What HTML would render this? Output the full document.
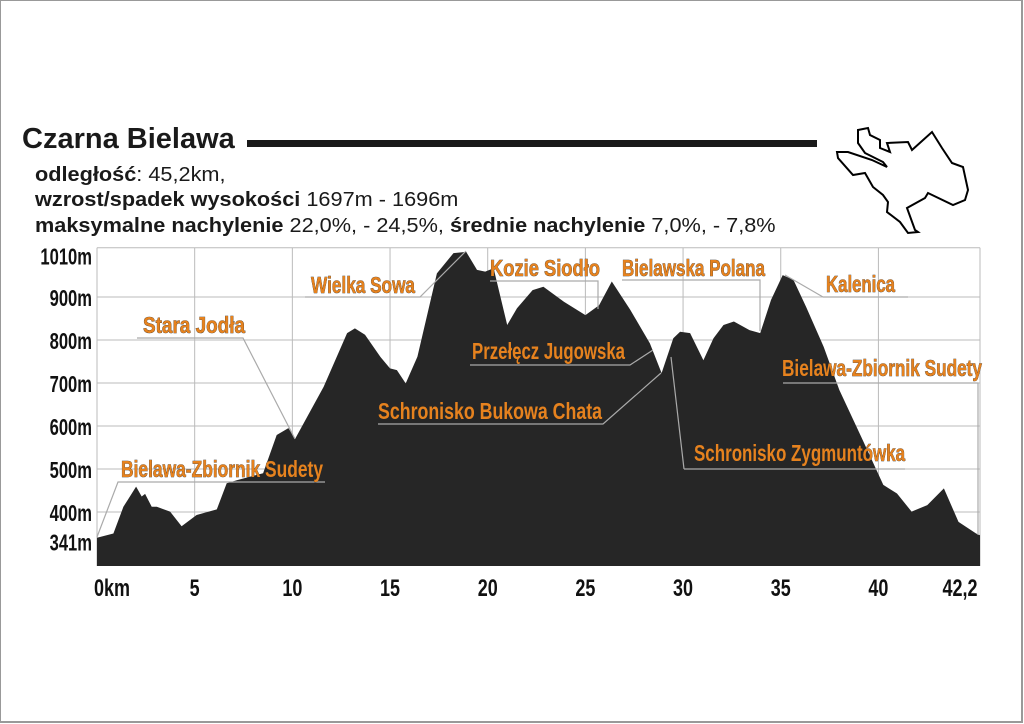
<!DOCTYPE html>
<html><head><meta charset="utf-8"><style>
html,body{margin:0;padding:0;background:#fff}
#wrap{position:relative;width:1024px;height:724px;overflow:hidden;font-family:"Liberation Sans",sans-serif}
.frame{position:absolute;left:0;top:0;width:1020px;height:720px;border:1px solid #999;border-right:2px solid #999;border-bottom:2px solid #999}
.title{position:absolute;left:22px;top:123px;font:bold 29px "Liberation Sans",sans-serif;color:#1a1a1a;transform:scaleX(1.0);transform-origin:left top;white-space:nowrap}
.bar{position:absolute;left:247px;top:140px;width:570px;height:7px;background:#1a1a1a}
.info{position:absolute;left:35px;font-size:20px;color:#1a1a1a;white-space:nowrap;transform:scaleX(1.085);transform-origin:left top}
.info b{font-weight:bold}
</style></head><body>
<div id="wrap">
<div class="frame"></div>
<div class="title">Czarna Bielawa</div>
<div class="bar"></div>
<div class="info" style="top:164px"><b>odległość</b>: 45,2km,</div>
<div class="info" style="top:189px"><b>wzrost/spadek wysokości</b> 1697m - 1696m</div>
<div class="info" style="top:215px"><b>maksymalne nachylenie</b> 22,0%, - 24,5%, <b>średnie nachylenie</b> 7,0%, - 7,8%</div>
<svg width="1024" height="724" style="position:absolute;left:0;top:0" id="svg">
<path fill="none" stroke="#000" stroke-width="2" d="M858,130 L868,128 L870,135 L880,140 L880,148 L890,152 L887,143 L908,142 L912,150 L932,132 L942,148 L952,163 L963,167 L968,190 L965,200 L953,205 L928,193 L925,198 L907,208 L915,230 L918,232 L908,233 L900,222 L887,212 L888,202 L883,195 L873,187 L865,173 L853,175 L838,158 L837,152 L848,152 L872,160 L887,167 L883,162 L865,153 L858,143 Z"/>
<g id="grid"></g><g id="area"></g><g id="ann"></g><g id="axes"></g>
</svg>
</div>
<script>
const km=[0,0.84,1.35,2.0,2.29,2.46,2.8,3.06,3.74,4.33,5.1,6.13,6.64,7.15,8.5,9.2,9.8,10.14,11.6,12.8,13.2,13.72,14.5,15.0,15.35,15.8,16.4,17.4,18.25,18.9,19.45,19.87,20.3,21.0,21.5,22.3,22.85,23.9,25.0,25.7,26.35,27.3,28.3,28.9,29.5,29.85,30.36,31.04,31.56,32.07,32.6,33.4,33.95,34.5,35.1,35.65,36.3,37.2,38.0,39.2,40.25,40.95,41.7,42.5,43.35,44.1,45.0,45.2];
const elev=[340,350,412,459,436,442,412,412,401,367,393,406,467,474,490,579,595,570,691,816,827,812,761,734,730,699,761,955,1002,1005,963,959,967,835,874,916,924,889,858,881,936,870,792,723,804,819,816,753,804,835,843,823,816,893,951,940,877,784,684,567,463,443,401,416,455,377,350,346];
const gridElev=[400,500,600,700,800,900,1010];
const yTicks=[341,400,500,600,700,800,900,1010];
const yTickLabels=["341m","400m","500m","600m","700m","800m","900m","1010m"];
const gridKm=[5,10,15,20,25,30,35,40];
const xTicks=[0,5,10,15,20,25,30,35,40,45.2];
const xTickLabels=["0km","5","10","15","20","25","30","35","40","42,2"];
const X0=97,X1=980,YB=566,maxKm=45.2;
function xs(k){return X0+k/maxKm*(X1-X0);}
function ys(e){return 512-(e-400)*0.43;}
const NS="http://www.w3.org/2000/svg";
function mk(t,a,p){const e=document.createElementNS(NS,t);for(const k in a)e.setAttribute(k,a[k]);p.appendChild(e);return e;}
function squeeze(t,f){const w=t.getComputedTextLength();t.setAttribute('textLength',(w*f).toFixed(1));t.setAttribute('lengthAdjust','spacingAndGlyphs');}
const grid=document.getElementById('grid'),area=document.getElementById('area'),ann=document.getElementById('ann'),axes=document.getElementById('axes');
gridElev.forEach(g=>{const l=mk('line',{x1:X0,x2:X1,y1:ys(g)-(g>1000?2:0),y2:ys(g)-(g>1000?2:0),stroke:'#bbb','stroke-width':1},grid);

});
gridKm.forEach(k=>{const l=mk('line',{x1:xs(k),x2:xs(k),y1:ys(1010)-2,y2:YB,stroke:'#bbb','stroke-width':1},grid);

});
const bl=mk('line',{x1:X0,x2:X0,y1:ys(1010)-2,y2:YB,stroke:'#bbb'},grid);


const br=mk('line',{x1:X1,x2:X1,y1:ys(1010)-2,y2:YB,stroke:'#bbb'},grid);


let d='M'+xs(0)+','+YB;
km.forEach((k,i)=>{d+=' L'+xs(k).toFixed(1)+','+ys(elev[i]).toFixed(1);});
d+=' L'+xs(maxKm)+','+YB+' Z';
const ar=mk('path',{d:d,fill:'#262626'},area);


yTicks.forEach((v,i)=>{const t=mk('text',{x:92,y:ys(v)+(v>1000?10:v<350?8:4)+5,'text-anchor':'end','font-size':23,'font-weight':'bold',fill:'#111','font-family':'Liberation Sans, sans-serif'},axes);
t.textContent=yTickLabels[i];


squeeze(t,0.72);});
xTicks.forEach((v,i)=>{let x=xs(v);if(i==0)x=112;if(i==xTicks.length-1)x=960;
const t=mk('text',{x:x,y:596,'text-anchor':'middle','font-size':24,'font-weight':'bold',fill:'#111','font-family':'Liberation Sans, sans-serif'},axes);
t.textContent=xTickLabels[i];


squeeze(t,0.75);});
const labels=[
["Wielka Sowa",311,293,104,"M305,297 L420,297 L466,251"],
["Kozie Siodło",490,276,110,"M490,281 L598,281 L598,309"],
["Bielawska Polana",622,276,143,"M622,280 L760,280 L760,331"],
["Kalenica",826,292,69,"M823,297 L908,297 M823,297 L785,275"],
["Stara Jodła",143,333,102,"M137,338 L243,338 L295,439"],
["Przełęcz Jugowska",472,359,153,"M470,365 L630,365 L653,350"],
["Bielawa-Zbiornik Sudety",782,376,200,"M783,383 L978,383 L978,535"],
["Schronisko Bukowa Chata",378,419,224,"M378,424 L603,424 L661,373"],
["Schronisko Zygmuntówka",694,461,211,"M684,469 L905,469 M684,469 L671,357"],
["Bielawa-Zbiornik Sudety",121,477,202,"M97,537 L118,482 L325,482"]];
labels.forEach(l=>{const p=mk('path',{d:l[4],fill:'none',stroke:'#aaa','stroke-width':1.2},ann);


const t=mk('text',{x:l[1],y:l[2],'font-size':23,'font-weight':'bold',fill:'#e6821e',stroke:'#2a2a2a','stroke-width':0.6,'paint-order':'stroke',textLength:l[3],lengthAdjust:'spacingAndGlyphs','font-family':'Liberation Sans, sans-serif'},ann);
t.textContent=l[0];

});
</script>
</body></html>
